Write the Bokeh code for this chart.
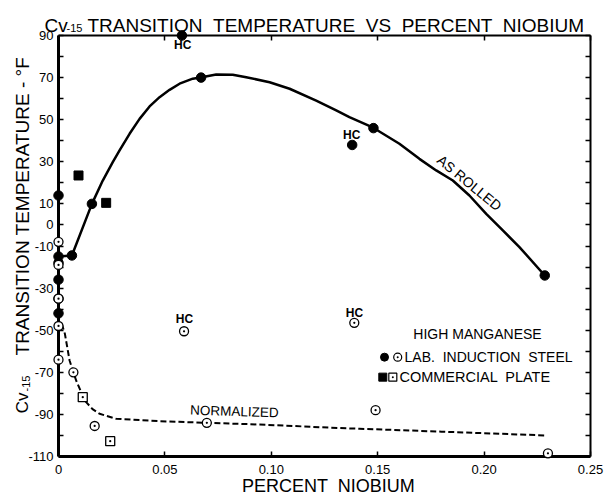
import math
from bokeh.plotting import figure
from bokeh.models import Range1d, LinearAxis, FixedTicker, CustomJSTickFormatter
from bokeh.core.properties import value
from bokeh.embed import file_html
from bokeh.resources import INLINE

# ---------------- data ----------------
x_ticks = [0, 0.05, 0.10, 0.15, 0.20, 0.25]
y_ticks = list(range(-110, 91, 10))
y_labelled = [90, 70, 50, 30, 10, 0, -10, -30, -50, -70, -90, -110]

# Lab. induction steel, as rolled (filled circles)
lab_rolled_x = [0, 0, 0, 0, 0, 0, 0.0063, 0.0157, 0.058, 0.067, 0.138, 0.148, 0.2285]
lab_rolled_y = [14, -15, -18, -26, -35, -42, -14.5, 10, 90, 70, 38, 46, -24]

# Lab. induction steel, normalized (open circles)
lab_norm_x = [0, 0, 0, 0, 0, 0.007, 0.017, 0.059, 0.139, 0.0697, 0.149, 0.23]
lab_norm_y = [-8, -19, -35, -48, -64, -70, -95.5, -50.5, -46.5, -94, -88, -108.5]

# Commercial plate, as rolled (filled squares)
com_rolled_x = [0.0094, 0.0224]
com_rolled_y = [23.5, 10.5]

# Commercial plate, normalized (open squares)
com_norm_x = [0.0114, 0.0243]
com_norm_y = [-81.8, -102.7]

# "As rolled" curve (traced)
rolled_curve_x = [0, 0.0063, 0.0157, 0.0208, 0.0255, 0.0287, 0.0334, 0.0381, 0.0428,
                  0.0475, 0.0522, 0.0569, 0.0631, 0.0673, 0.0741, 0.0819, 0.0882,
                  0.0992, 0.1086, 0.1211, 0.1305, 0.1367, 0.1479, 0.1602, 0.1696,
                  0.1775, 0.1853, 0.1931, 0.201, 0.2088, 0.2166, 0.2285]
rolled_curve_y = [-15, -14.5, 10, 21.1, 29.8, 35.4, 43.3, 50.4, 56.3,
                  60.7, 64.2, 67.1, 69.5, 70.2, 71.5, 71.4, 70.2,
                  67.8, 64.7, 59.1, 54.4, 51.2, 46.2, 38.6, 31.4,
                  25.9, 21.1, 14.0, 5.3, -2.6, -10.5, -24]

# "Normalized" curve (traced)
norm_curve_x = [0.0015, 0.003, 0.0052, 0.007, 0.0083, 0.0105, 0.013, 0.016, 0.0193,
                0.0271, 0.0475, 0.0697, 0.0945, 0.132, 0.1414, 0.18, 0.229]
norm_curve_y = [-47, -51.7, -64.4, -70, -73.9, -79, -84.2, -87.5, -89.7,
                -92.1, -93.2, -94, -94.8, -96.5, -96.8, -98.2, -100]

# HC annotations
hc_x = [0.0584, 0.1378, 0.0592, 0.1391]
hc_y = [85.7, 42.5, -44.6, -41.9]

FONT = "Liberation Sans"
GAP = " \u00a0"  # wide word gap as in the hand lettering

p = figure(width=613, height=496, x_range=Range1d(0, 0.25), y_range=Range1d(-110, 90),
           output_backend="svg", toolbar_location=None,
           x_axis_location=None, y_axis_location=None,
           min_border_left=58, min_border_right=23, min_border_top=35, min_border_bottom=40)
p.xgrid.visible = False
p.ygrid.visible = False
p.outline_line_color = None
p.background_fill_color = "white"

bottom_axis = LinearAxis(ticker=FixedTicker(ticks=x_ticks))
top_axis = LinearAxis(ticker=FixedTicker(ticks=x_ticks))
left_axis = LinearAxis(ticker=FixedTicker(ticks=y_ticks))
right_axis = LinearAxis(ticker=FixedTicker(ticks=y_ticks))
p.add_layout(bottom_axis, "below")
p.add_layout(left_axis, "left")
p.add_layout(top_axis, "above")
p.add_layout(right_axis, "right")

bottom_axis.formatter = CustomJSTickFormatter(
    code='return tick == 0 ? "0" : tick.toFixed(2);')
left_axis.major_label_overrides = {t: (str(t) if t in y_labelled else "") for t in y_ticks}

for ax in (bottom_axis, left_axis, top_axis, right_axis):
    ax.major_tick_in = 5
    ax.major_tick_out = 0
    ax.minor_tick_in = 0
    ax.minor_tick_out = 0
    ax.axis_line_color = "black"
    ax.major_tick_line_color = "black"
    ax.major_tick_line_width = 1.5
    ax.major_label_text_font = FONT
    ax.major_label_text_color = "black"
    ax.major_label_text_font_size = "13px"

bottom_axis.axis_line_width = 3
left_axis.axis_line_width = 3
top_axis.axis_line_width = 2
right_axis.axis_line_width = 2
bottom_axis.major_label_standoff = 8
left_axis.major_label_standoff = 5
for ax in (top_axis, right_axis):
    ax.formatter = CustomJSTickFormatter(code='return "";')
    ax.major_label_standoff = 0

# curves
p.line(rolled_curve_x, rolled_curve_y, line_color="black", line_width=2.5, line_join="round")
p.line(norm_curve_x, norm_curve_y, line_color="black", line_width=2, line_dash="6 3")

# points (overlay level so markers on the frame edge are not cut)
p.scatter(lab_rolled_x, lab_rolled_y, marker="circle", size=9.5, fill_color="black",
          line_color="black", level="overlay")
p.scatter(lab_norm_x, lab_norm_y, marker="circle_dot", size=9, fill_color="white",
          line_color="black", line_width=1.3, level="overlay")
p.scatter(com_rolled_x, com_rolled_y, marker="square", size=9, fill_color="black",
          line_color="black", level="overlay")
p.scatter(com_norm_x, com_norm_y, marker="square_dot", size=9, fill_color="white",
          line_color="black", line_width=1.3, level="overlay")


def txt(text, x, y, size, align="left", baseline="alphabetic", angle=0.0, bold=False):
    p.text(x=[x], y=[y], text=[text], text_font=value(FONT), text_font_size=size,
           text_align=align, text_baseline=baseline, angle=angle, text_color="black",
           text_font_style="bold" if bold else "normal", level="overlay")


for hx, hy in zip(hc_x, hc_y):
    txt("HC", hx, hy, "12px", align="center", baseline="middle", bold=True)

txt("AS ROLLED", 0.1931, 20, "14px", align="center", baseline="middle", angle=-0.69)
txt("NORMALIZED", 0.0827, -88.6, "13.5px", align="center", baseline="middle", angle=-0.03)

# legend block
txt("HIGH MANGANESE", 0.1969, -51.8, "14px", align="center", baseline="middle")
p.scatter([0.1532], [-62.8], marker="circle", size=8, fill_color="black", line_color="black")
p.scatter([0.1594], [-62.8], marker="circle_dot", size=8, fill_color="white",
          line_color="black", line_width=1.2)
txt("LAB." + GAP + "INDUCTION" + GAP + "STEEL", 0.1626, -62.8, "14px", baseline="middle")
p.scatter([0.1524], [-72.3], marker="square", size=8, fill_color="black", line_color="black")
p.scatter([0.1571], [-72.3], marker="square_dot", size=8, fill_color="white",
          line_color="black", line_width=1.2)
txt("COMMERCIAL" + GAP + "PLATE", 0.1602, -72.3, "14.5px", baseline="middle")

# title
txt("Cv", -0.0066, 94.8, "19px")
txt("-15", 0.0038, 93.4, "11px")
txt(GAP.join(["TRANSITION", "TEMPERATURE", "VS", "PERCENT", "NIOBIUM"]),
    0.0136, 94.8, "19px")

# y axis title (rotated)
txt("Cv", -0.0169, -89.5, "17px", angle=math.pi / 2)
txt("-15", -0.0155, -79.1, "11px", angle=math.pi / 2)
txt("TRANSITION TEMPERATURE - \u00b0F", -0.0169, -62.0, "19px", angle=math.pi / 2)

# x axis title
txt("PERCENT" + GAP + "NIOBIUM", 0.1269, -124.2, "18px", align="center", baseline="middle")

open("out.html", "w").write(file_html(p, INLINE))
